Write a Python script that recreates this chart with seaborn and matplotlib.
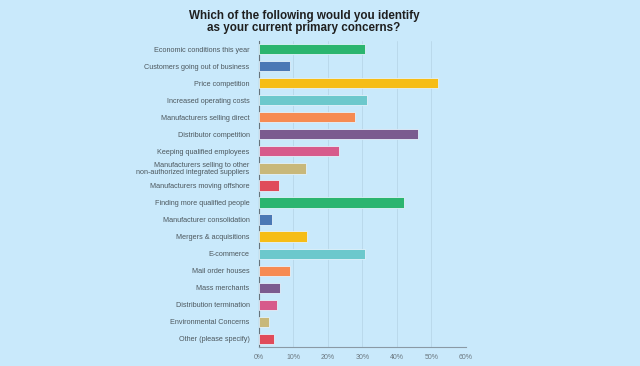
import matplotlib
matplotlib.use("Agg")
import matplotlib.pyplot as plt
import seaborn as sns
import pandas as pd
from matplotlib.ticker import PercentFormatter

concerns = [
    "Economic conditions this year",
    "Customers going out of business",
    "Price competition",
    "Increased operating costs",
    "Manufacturers selling direct",
    "Distributor competition",
    "Keeping qualified employees",
    "Manufacturers selling to other\nnon-authorized integrated suppliers",
    "Manufacturers moving offshore",
    "Finding more qualified people",
    "Manufacturer consolidation",
    "Mergers & acquisitions",
    "E-commerce",
    "Mail order houses",
    "Mass merchants",
    "Distribution termination",
    "Environmental Concerns",
    "Other (please specify)",
]
share = [30.9, 9.2, 51.9, 31.3, 27.9, 46.1, 23.3, 13.8, 5.9,
         42.1, 4.0, 14.0, 30.9, 9.2, 6.3, 5.2, 3.0, 4.5]

cycle = ["#2bb56f", "#4a78b5", "#f6bd16", "#6cc8cc", "#f68b52",
         "#7b5b8f", "#d75a8b", "#c8b87a", "#e04b5a"]
colors = [cycle[i % len(cycle)] for i in range(len(concerns))]

df = pd.DataFrame({"Concern": concerns, "Share": share})

bg = "#c9e9fb"
sns.set_style("white")
plt.rcParams["font.family"] = ["Liberation Sans", "DejaVu Sans"]

fig = plt.figure(figsize=(6.4, 3.66), dpi=100, facecolor=bg)
ax = fig.add_axes([0.404, 0.051, 0.324, 0.838], facecolor=bg)

sns.barplot(data=df, x="Share", y="Concern", hue="Concern", palette=colors,
            saturation=1, legend=False, width=0.6, ax=ax,
            edgecolor="#e3f2fb", linewidth=0.6, zorder=3)

ax.set_xlim(0, 60)
ax.set_ylim(17.5, -0.5)
ax.set_xticks(range(0, 61, 10))
ax.xaxis.set_major_formatter(PercentFormatter(decimals=0))
ax.grid(axis="x", color="#b8d6e8", linewidth=0.6, zorder=0)
ax.set_xlabel("")
ax.set_ylabel("")
for side in ["top", "right"]:
    ax.spines[side].set_visible(False)
ax.spines["left"].set_color("#66737b")
ax.spines["bottom"].set_color("#8a9aa5")
ax.tick_params(axis="y", length=0, labelsize=5.2, labelcolor="#4d585e", pad=6.5)
ax.tick_params(axis="x", length=0, labelsize=5.0, labelcolor="#6b7880", pad=5)
for lbl in ax.get_yticklabels():
    lbl.set_linespacing(0.95)

fig.text(0.475, 0.94, "Which of the following would you identify\nas your current primary concerns?",
         ha="center", va="center", fontsize=8.4, fontweight="bold",
         color="#1f1f1f", linespacing=1.05)

fig.savefig("out.png", dpi=100, facecolor=bg)
